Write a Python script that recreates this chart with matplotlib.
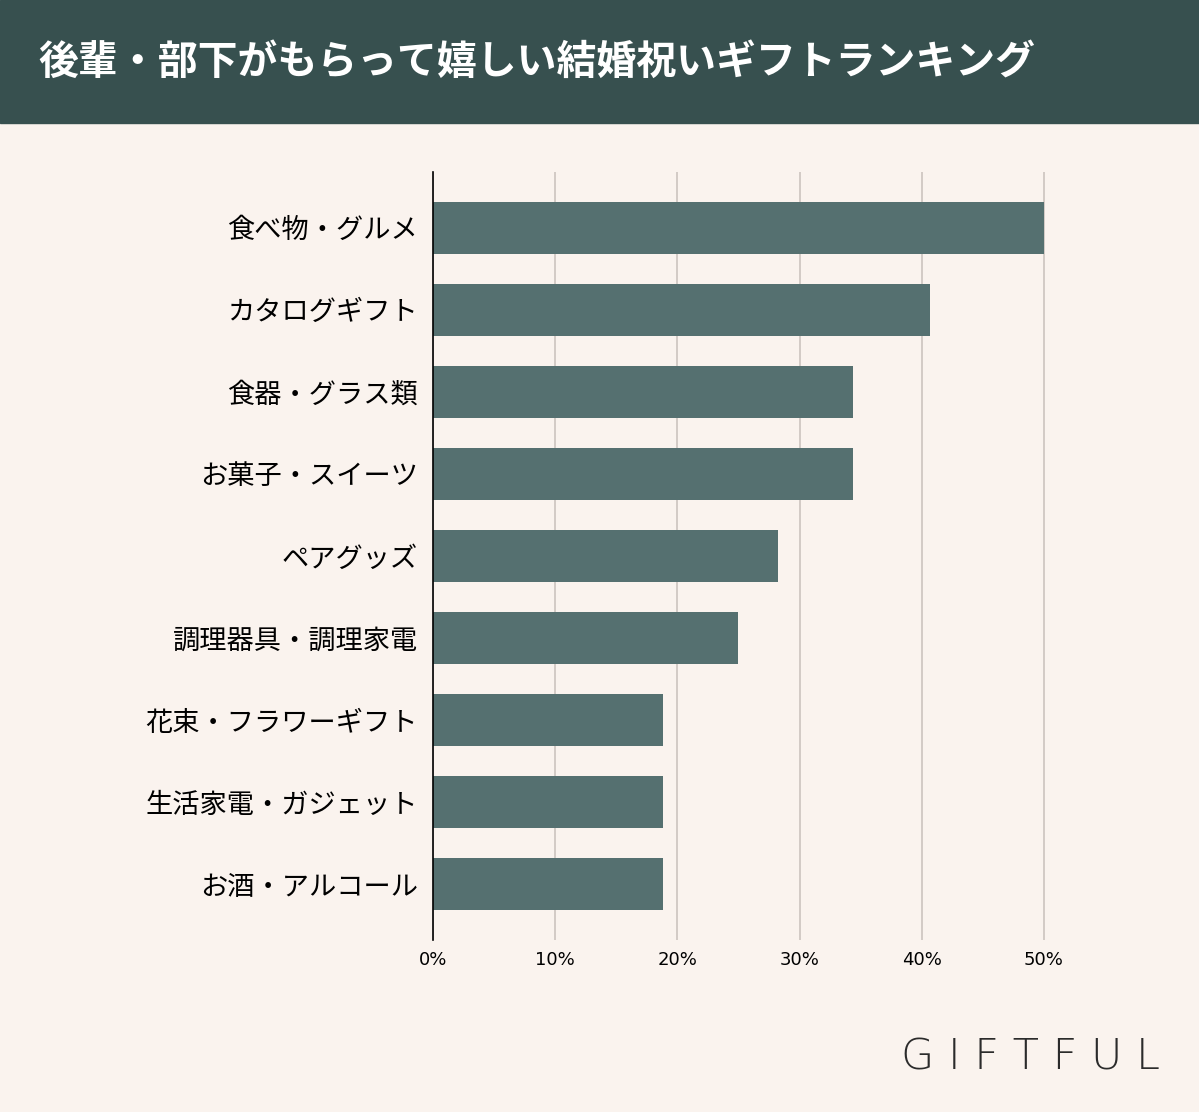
import matplotlib.pyplot as plt
from matplotlib.patches import Rectangle

plt.rcParams["font.family"] = "Noto Sans CJK JP"

categories = ["食べ物・グルメ", "カタログギフト", "食器・グラス類", "お菓子・スイーツ", "ペアグッズ",
              "調理器具・調理家電", "花束・フラワーギフト", "生活家電・ガジェット", "お酒・アルコール"]
values = [50.0, 40.7, 34.4, 34.4, 28.2, 25.0, 18.8, 18.8, 18.8]
ticks = [0, 10, 20, 30, 40, 50]
tick_labels = ["0%", "10%", "20%", "30%", "40%", "50%"]

BG = "#faf3ee"
HEAD = "#37504f"
BAR = "#557070"

fig = plt.figure(figsize=(11.99, 11.12), dpi=100, facecolor=BG)
fig.patches.append(Rectangle((0, 1 - 123 / 1112), 1, 123 / 1112, transform=fig.transFigure,
                             color=HEAD, zorder=0))
fig.text(38 / 1199, 1 - 62 / 1112, "後輩・部下がもらって嬉しい結婚祝いギフトランキング",
         color="white", fontsize=28.7, fontweight="bold", va="center")

ax = fig.add_axes([433 / 1199, 1 - 940 / 1112, 672 / 1199, 768 / 1112], facecolor=BG)
ax.barh(range(len(values)), values, height=0.64, color=BAR, zorder=3)
ax.set_xlim(0, 55)
ax.set_ylim(8.68, -0.68)
ax.set_yticks(range(len(categories)))
ax.set_yticklabels(categories, fontsize=19.6)
ax.set_xticks(ticks)
ax.set_xticklabels(tick_labels, fontsize=13, family="DejaVu Sans")
ax.tick_params(axis="x", length=0, pad=8)
ax.tick_params(axis="y", length=0, pad=11)
ax.grid(axis="x", color="#cfc7c2", lw=1.3, zorder=1)
for s in ["top", "right", "bottom"]:
    ax.spines[s].set_visible(False)
ax.spines["left"].set_color("black")
ax.spines["left"].set_linewidth(1.2)
ax.spines["left"].set_zorder(4)

# logo
fig.text(1160 / 1199, 1 - 1057 / 1112, "G I F T F U L", fontsize=31, fontweight="light",
         family="DejaVu Sans", color="#2b2b2b", ha="right", va="center")

fig.savefig("out.png", facecolor=BG)
